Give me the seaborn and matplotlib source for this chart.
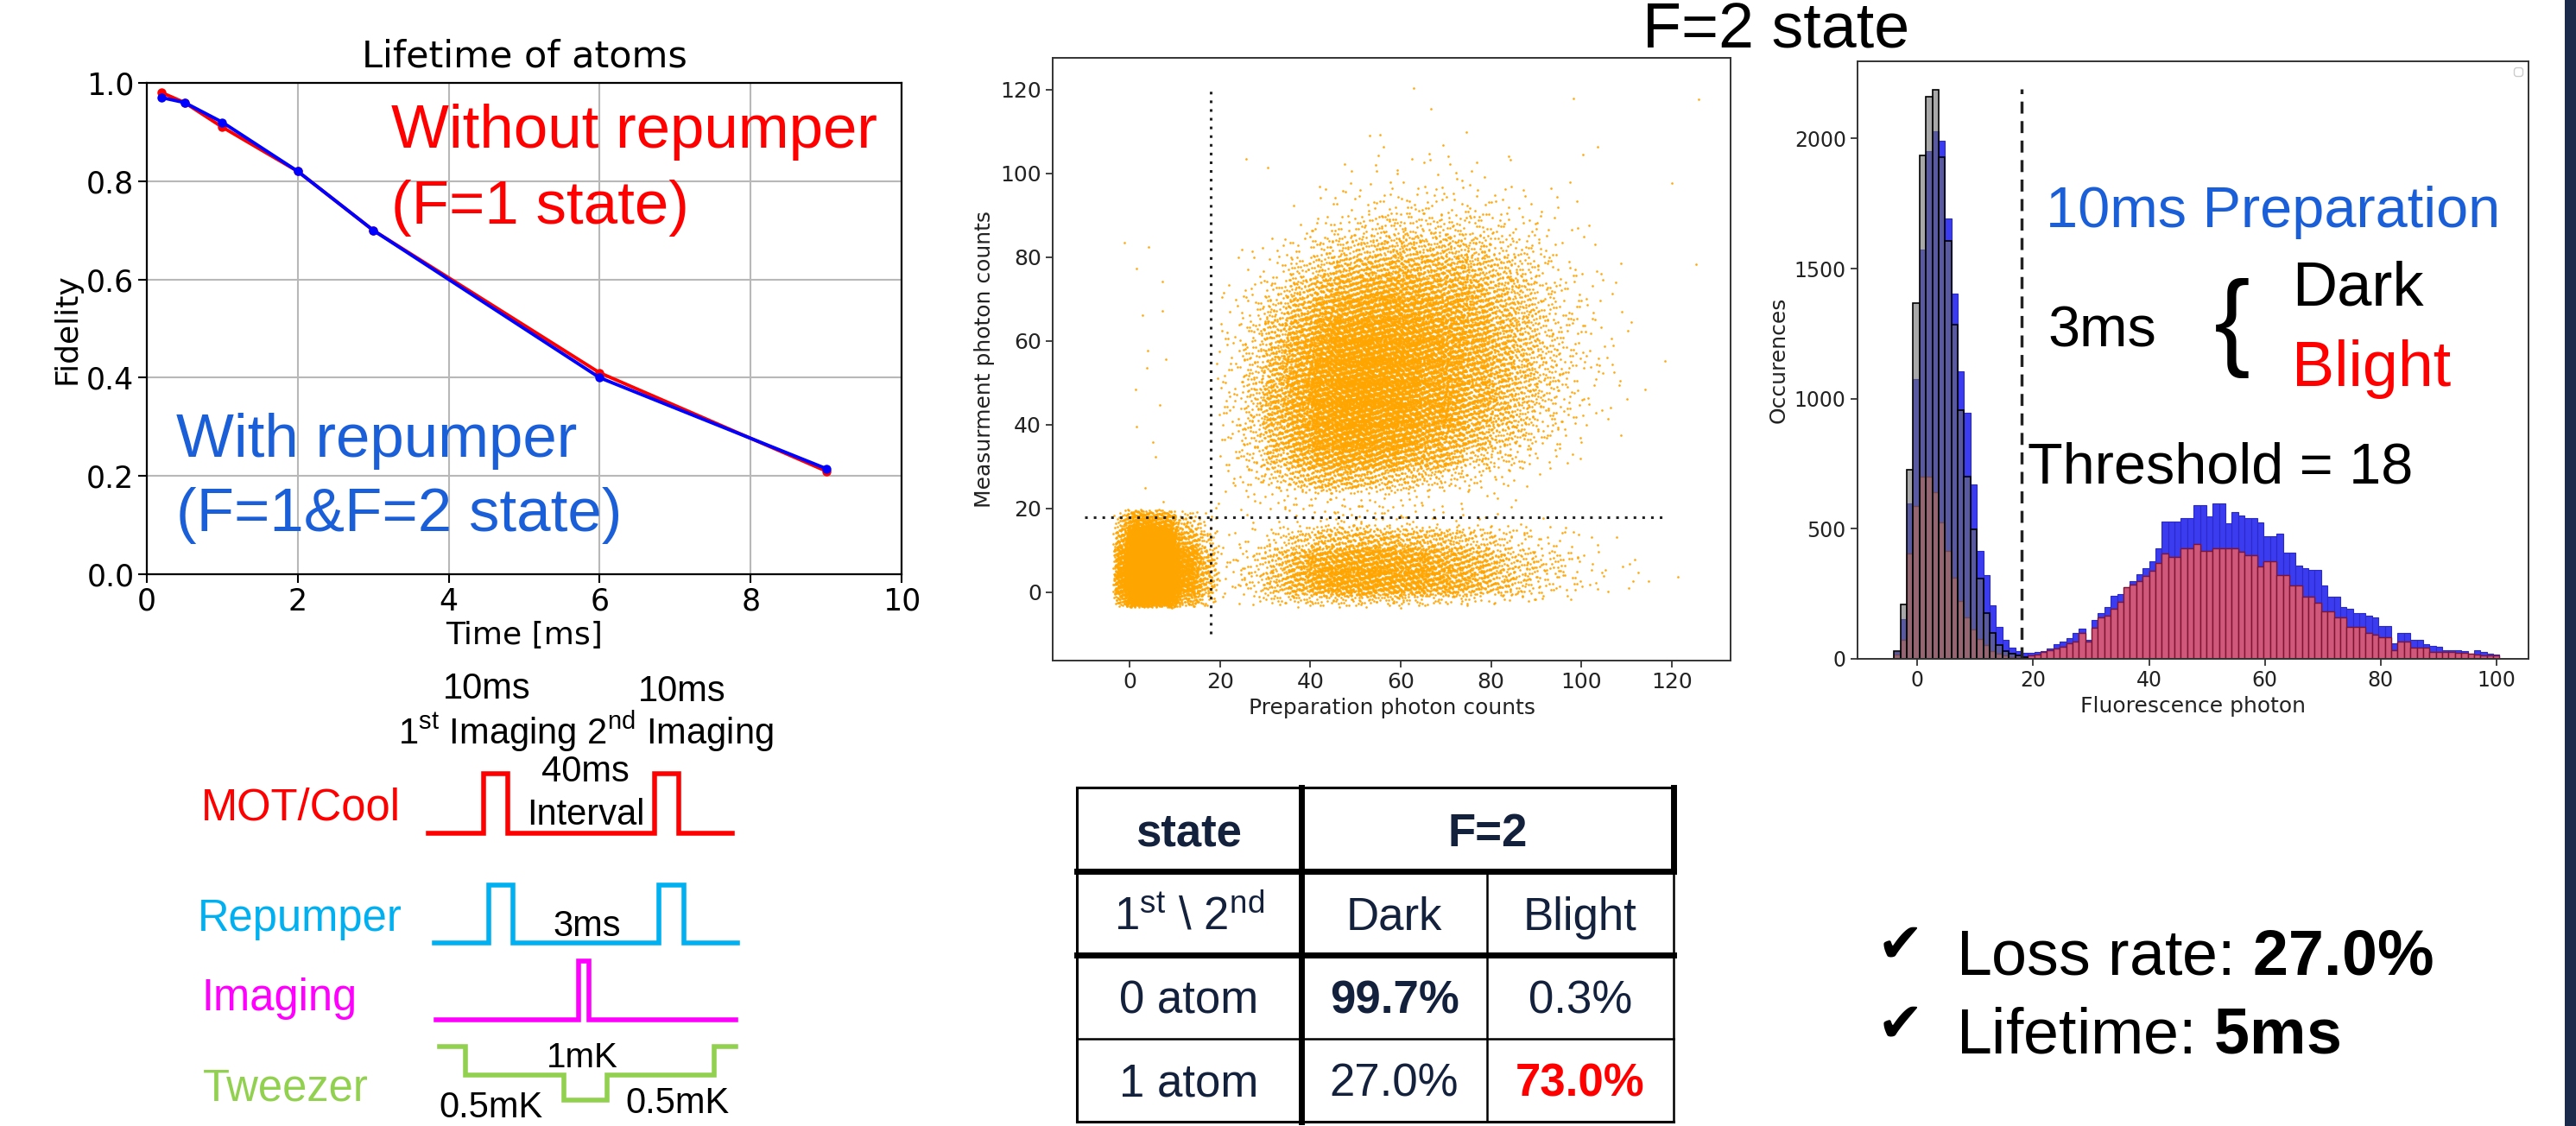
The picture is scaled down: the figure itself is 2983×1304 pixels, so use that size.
import numpy as np
import pandas as pd
import matplotlib
matplotlib.use("Agg")
import matplotlib.pyplot as plt
from matplotlib.patches import Rectangle
import seaborn as sns

# ============================ DATA ============================
# Lifetime of atoms
time_ms = [0.2, 0.5, 1, 2, 3, 6, 9]
fidelity_without_repumper = [0.98, 0.96, 0.91, 0.82, 0.70, 0.41, 0.21]
fidelity_with_repumper = [0.97, 0.96, 0.92, 0.82, 0.70, 0.40, 0.215]

threshold = 18

# Histogram (bins of width 1.1 starting at -4)
hist_first_edge = -4.0
hist_bin_width = 1.1
hist_gray = [30, 208, 727, 1369, 1934, 2161, 2187, 1927, 1606, 1286, 955, 700, 497,
             309, 177, 98, 52, 30, 20, 12, 8]
hist_blue = [28, 153, 598, 1075, 1572, 1953, 2028, 1992, 1692, 1403, 1106, 947, 672,
             416, 322, 205, 122, 72, 44, 30, 22,
             22, 25, 30, 40, 55, 65, 80, 100, 116, 72, 150, 177, 200, 243, 250, 276,
             300, 326, 350, 376, 426, 528, 528, 528, 542, 542, 592, 592, 548, 597, 597,
             520, 564, 550, 542, 542, 525, 470, 470, 481, 409, 409, 360, 350, 343, 343,
             282, 238, 238, 200, 194, 177, 177, 165, 160, 127, 127, 61, 100, 100, 72,
             72, 55, 50, 48, 33, 33, 33, 30, 19, 33, 28, 19, 17]
hist_red = [15, 72, 406, 586, 700, 700, 642, 525, 414, 312, 223, 158, 114, 75, 52,
            31, 20, 12, 8, 6, 5,
            12, 18, 25, 32, 39, 45, 61, 65, 100, 66, 120, 160, 165, 194, 220, 276,
            285, 299, 320, 337, 370, 404, 393, 393, 426, 426, 442, 415, 415, 426, 426,
            426, 426, 410, 398, 398, 354, 376, 376, 321, 321, 282, 282, 238, 238, 216,
            182, 182, 160, 160, 122, 122, 122, 100, 92, 83, 83, 33, 66, 66, 44, 44, 44,
            28, 28, 28, 26, 22, 22, 20, 16, 14, 13, 12]

# Scatter: estimated point counts per cell (listed column by column along x)
# cluster "0 atom"
scat_a_x_edges = [-3.0, 0, 5, 10, 15, 19]
scat_a_y_edges = [-3.0, 0, 5, 10, 15, 19]
scat_a_counts = [[65, 310, 285, 120, 30],
                 [690, 3270, 3010, 1290, 340],
                 [460, 2185, 2010, 860, 230],
                 [90, 420, 390, 165, 45],
                 [20, 90, 85, 35, 8]]
# cluster "atom lost" (bright -> dark)
scat_c_x_edges = [20, 25, 30, 35, 40, 45, 50, 55, 60, 65, 70, 75, 80, 85, 90, 95,
                  100, 105, 110, 115]
scat_c_y_edges = [-3.0, 0, 5, 10, 15, 20]
scat_c_counts = [[2, 8, 8, 3, 1], [5, 25, 22, 8, 2], [12, 70, 60, 20, 3],
                 [20, 150, 130, 45, 5], [25, 230, 200, 75, 8], [28, 280, 250, 95, 10],
                 [28, 290, 265, 105, 11], [25, 270, 250, 100, 10], [22, 230, 215, 88, 9],
                 [18, 190, 180, 72, 7], [14, 150, 140, 55, 5], [10, 110, 100, 40, 4],
                 [6, 70, 65, 25, 3], [4, 42, 40, 15, 2], [2, 22, 22, 8, 1],
                 [1, 12, 12, 5, 1], [0, 5, 5, 2, 0], [0, 2, 2, 1, 0], [0, 1, 1, 0, 0]]
# cluster "atom kept" (bright -> bright)
scat_b_x_edges = [20, 25, 30, 35, 40, 45, 50, 55, 60, 65, 70, 75, 80, 85, 90, 95,
                  100, 105, 110]
scat_b_y_edges = [20, 25, 30, 35, 40, 45, 50, 55, 60, 65, 70, 75, 80, 85, 90, 95,
                  100, 105, 110]
scat_b_counts = [
    [3, 4, 6, 8, 10, 10, 10, 8, 6, 4, 3, 1, 0, 0, 0, 0, 0, 0],
    [6, 12, 22, 30, 35, 35, 32, 28, 20, 12, 6, 3, 1, 0, 0, 0, 1, 0],
    [8, 30, 70, 95, 110, 110, 100, 85, 65, 40, 20, 8, 3, 0, 0, 0, 0, 0],
    [10, 60, 140, 180, 200, 200, 190, 170, 140, 95, 55, 25, 10, 3, 1, 0, 0, 0],
    [12, 90, 220, 280, 300, 300, 290, 260, 220, 160, 100, 50, 22, 8, 3, 1, 0, 0],
    [12, 95, 240, 320, 350, 360, 350, 320, 280, 210, 140, 80, 35, 12, 5, 2, 1, 0],
    [10, 85, 230, 320, 360, 370, 365, 340, 300, 240, 170, 100, 50, 20, 7, 3, 1, 1],
    [8, 70, 200, 290, 330, 345, 340, 320, 295, 240, 180, 110, 60, 25, 10, 4, 1, 1],
    [6, 50, 160, 240, 280, 300, 300, 290, 270, 225, 170, 110, 60, 25, 10, 4, 1, 0],
    [4, 35, 115, 185, 225, 245, 250, 245, 230, 195, 150, 100, 55, 25, 10, 4, 2, 1],
    [3, 22, 75, 130, 170, 190, 200, 200, 190, 165, 130, 90, 50, 22, 9, 4, 2, 1],
    [2, 12, 45, 85, 120, 140, 150, 150, 145, 125, 100, 70, 40, 18, 8, 3, 1, 0],
    [1, 6, 24, 50, 75, 90, 100, 100, 95, 82, 65, 45, 25, 12, 5, 2, 1, 0],
    [0, 3, 12, 28, 45, 55, 62, 62, 58, 50, 40, 28, 15, 8, 3, 1, 0, 0],
    [0, 1, 5, 12, 20, 26, 30, 30, 28, 24, 18, 12, 7, 4, 2, 1, 0, 0],
    [0, 0, 2, 5, 9, 12, 14, 14, 13, 11, 8, 5, 3, 2, 1, 1, 0, 0],
    [0, 0, 0, 2, 3, 4, 5, 5, 5, 4, 3, 2, 1, 1, 0, 0, 1, 0],
    [0, 0, 0, 0, 1, 2, 2, 2, 2, 1, 1, 1, 0, 0, 0, 0, 0, 0]]
scat_outlier_x = [-1.2, 1.5, 4.3, 7.3, 7.3, 2.9, 4.0, 8.1, 3.8, 1.4, 6.7, 1.5, 5.2, 5.8,
                  3.5, 7.5, 30.6, 62.8, 66.7, 55.5, 98.3, 126.0, 120.0, 125.4, 118.5,
                  114.1, 108.7, 99.7, 121.4, 114.8, 110.4, 111.8, 103.5, 94.8, 106.9,
                  111.0, 106.9, 83.8, 74.6, 70.5, 42.0, 49.1, 24.9, 29.5, 81.5, 84.4]
scat_outlier_y = [83.5, 77.3, 82.5, 74.2, 67.2, 66.1, 57.8, 55.7, 53.6, 48.4, 44.8, 39.6,
                  35.9, 32.3, 25.0, 21.7, 101.4, 120.3, 115.4, 109.2, 117.9, 117.7, 97.7,
                  78.3, 55.2, 48.4, 37.5, 32.0, 3.6, 2.6, 1.0, 7.8, 106.3, 91.9, 71.4,
                  64.6, 54.4, 104.2, 109.9, 104.2, 96.9, 100.5, 81.8, 82.3, 22.4, 20.3]

# Timing diagram (schematic time units, logical levels)
timing_labels = ["MOT/Cool", "Repumper", "Imaging", "Tweezer"]
mot_t = [0, 18.2, 26.1, 74.4, 82.4, 100]
mot_level = [0, 1, 0, 1, 0, 0]
rep_t = [2, 19.9, 27.8, 75.9, 84.1, 101.7]
rep_level = [0, 1, 0, 1, 0, 0]
img_t = [2.6, 49.4, 52.8, 101.1]
img_level = [0, 1, 0, 0]
twz_t = [3.7, 12.2, 44.6, 58.8, 94.0, 101.1]
twz_level = [1, 0.47, 0, 0.47, 1, 1]

# Table
table_header = ["state", "F=2"]
table_subheader = ["1$^{\\mathrm{st}}$ \\ 2$^{\\mathrm{nd}}$", "Dark", "Blight"]
table_row_labels = ["0 atom", "1 atom"]
table_values = [["99.7%", "0.3%"], ["27.0%", "73.0%"]]
summary_loss_rate = "27.0%"
summary_lifetime = "5ms"

# ============================ STYLE ============================
W, H = 2983, 1304
DPI = 100
plt.rcParams["font.family"] = ["DejaVu Sans"]
plt.rcParams["mathtext.fontset"] = "custom"
plt.rcParams["mathtext.rm"] = "Liberation Sans"
plt.rcParams["mathtext.bf"] = "Liberation Sans:bold"
plt.rcParams["mathtext.it"] = "Liberation Sans:italic"
SLIDE = ["Liberation Sans", "DejaVu Sans"]
NAVY = "#14213d"
TXT_BLUE = "#1a5fd7"


def px_rect(x0, y0, x1, y1):
    return [x0 / W, 1 - y1 / H, (x1 - x0) / W, (y1 - y0) / H]


fig = plt.figure(figsize=(W / DPI, H / DPI), dpi=DPI, facecolor="white")

# ---------------- Lifetime line chart ----------------
ax1 = fig.add_axes(px_rect(170, 96, 1044, 665))
df_life = pd.DataFrame({
    "Time [ms]": time_ms + time_ms,
    "Fidelity": fidelity_without_repumper + fidelity_with_repumper,
    "series": ["without"] * len(time_ms) + ["with"] * len(time_ms),
})
sns.lineplot(data=df_life, x="Time [ms]", y="Fidelity", hue="series",
             hue_order=["without", "with"], palette={"without": "red", "with": "blue"},
             marker="o", markersize=7.5, markeredgewidth=0, linewidth=2.8,
             legend=False, ax=ax1)
ax1.set_xlim(0, 10)
ax1.set_ylim(0, 1.0)
ax1.set_xticks([0, 2, 4, 6, 8, 10])
ax1.set_yticks([0, 0.2, 0.4, 0.6, 0.8, 1.0])
ax1.set_axisbelow(True)
ax1.grid(True, color="#b8b8b8", lw=1.5)
ax1.tick_params(labelsize=25, length=7, width=1.5)
ax1.set_xlabel("Time [ms]", fontsize=26)
ax1.set_ylabel("Fidelity", fontsize=26)
ax1.set_title("Lifetime of atoms", fontsize=31, pad=13)
for sp in ax1.spines.values():
    sp.set_linewidth(1.6)


# ---------------- Scatter ----------------
PHI4 = 1.1673039782614187
ALPHAS = [1 / PHI4 ** k for k in range(1, 5)]


def cell_points(x_edges, y_edges, counts_by_x, start, blur=0.5):
    counts = np.asarray(counts_by_x, dtype=int)
    xs, ys = [], []
    idx = start
    for i in range(len(x_edges) - 1):
        for j in range(len(y_edges) - 1):
            n = counts[i, j]
            if n <= 0:
                continue
            k = np.arange(idx, idx + n)
            idx += n
            u1, u2, v1, v2 = [np.mod(0.5 + k * a, 1.0) for a in ALPHAS]
            x0, x1 = x_edges[i], x_edges[i + 1]
            y0, y1 = y_edges[j], y_edges[j + 1]
            xs.append(x0 + u1 * (x1 - x0) + (u2 - 0.5) * blur * (x1 - x0))
            ys.append(y0 + v1 * (y1 - y0) + (v2 - 0.5) * blur * (y1 - y0))
    return np.concatenate(xs), np.concatenate(ys), idx


xa, ya, nxt = cell_points(scat_a_x_edges, scat_a_y_edges, scat_a_counts, 1)
xc, yc, nxt = cell_points(scat_c_x_edges, scat_c_y_edges, scat_c_counts, nxt)
xb, yb, nxt = cell_points(scat_b_x_edges, scat_b_y_edges, scat_b_counts, nxt)
df_scat = pd.DataFrame({
    "prep": np.concatenate([xa, xc, xb, scat_outlier_x]),
    "meas": np.concatenate([ya, yc, yb, scat_outlier_y]),
})

ax2 = fig.add_axes(px_rect(1219, 67, 2004, 765))
sns.scatterplot(data=df_scat, x="prep", y="meas", s=3.6, color="#FFA500", linewidth=0,
                alpha=0.95, ax=ax2)
ax2.plot([-10, 119], [threshold, threshold], ls=(0, (1, 2.3)), color="#222222", lw=2.2)
ax2.plot([threshold, threshold], [-10, 120], ls=(0, (1, 2.3)), color="#222222", lw=2.2)
ax2.set_xlim(-17, 133)
ax2.set_ylim(-16.3, 127.6)
ax2.set_xticks(range(0, 121, 20))
ax2.set_yticks(range(0, 121, 20))
ax2.tick_params(labelsize=18, length=6, width=1.2, colors="#222222")
ax2.set_xlabel("Preparation photon counts", fontsize=18, color="#222222")
ax2.set_ylabel("Measurment photon counts", fontsize=18, color="#222222")
for sp in ax2.spines.values():
    sp.set_linewidth(1.4)
    sp.set_color("#333333")

# ---------------- Histogram ----------------
ax3 = fig.add_axes(px_rect(2151, 71, 2928, 763))
n_bins = len(hist_blue)
edges = [hist_first_edge + hist_bin_width * i for i in range(n_bins + 1)]
centers = [hist_first_edge + hist_bin_width * (i + 0.5) for i in range(n_bins)]
ng = len(hist_gray)
df_blue = pd.DataFrame({"photon": centers, "count": hist_blue})
df_red = pd.DataFrame({"photon": centers, "count": hist_red})
df_gray = pd.DataFrame({"photon": centers[:ng], "count": hist_gray})
sns.histplot(data=df_blue, x="photon", weights="count", bins=edges, color="#3b3bef",
             alpha=1.0, edgecolor="#2a2acc", linewidth=0.8, ax=ax3)
sns.histplot(data=df_red, x="photon", weights="count", bins=edges, color="#d0587a",
             alpha=1.0, edgecolor="#7d1532", linewidth=1.0, ax=ax3)
sns.histplot(data=df_gray, x="photon", weights="count", bins=edges[:ng + 1],
             color="#6e6e6e", alpha=0.6, edgecolor="black", linewidth=1.2, ax=ax3)
ax3.vlines(threshold, 0, 2190, colors="#222222", linestyles=(0, (4, 2.5)), lw=2.5)
ax3.set_xlim(-10.3, 105.5)
ax3.set_ylim(0, 2297)
ax3.set_xticks(range(0, 101, 20))
ax3.set_yticks(range(0, 2001, 500))
ax3.tick_params(labelsize=17, length=6, width=1.2, colors="#222222")
ax3.set_xlabel("Fluorescence photon", fontsize=18, color="#222222")
ax3.set_ylabel("Occurences", fontsize=18, color="#222222")
ax3.legend(handles=[], loc="upper right", borderpad=0.35, framealpha=1)
for sp in ax3.spines.values():
    sp.set_linewidth(1.4)
    sp.set_color("#333333")

# ---------------- Timing diagram ----------------
ax_t = fig.add_axes(px_rect(480, 870, 870, 1290))
ax_t.set_xlim(-4.55, 106.25)
ax_t.set_ylim(0, 420 / 68)
ax_t.axis("off")
timing_series = [
    (mot_t, mot_level, 4.78, 1.01, "#ff0000"),
    (rep_t, rep_level, 2.91, 0.985, "#00b0f0"),
    (img_t, img_level, 1.60, 1.0, "#ff00ff"),
    (twz_t, twz_level, 0.235, 0.91, "#92d050"),
]
for t, lev, base, amp, col in timing_series:
    df_w = pd.DataFrame({"t": t, "level": [base + amp * v for v in lev]})
    sns.lineplot(data=df_w, x="t", y="level", drawstyle="steps-post",
                 color=col, lw=4.0, estimator=None, sort=False, ax=ax_t,
                 solid_joinstyle="miter", clip_on=False)
ax_t.set_xlabel("")
ax_t.set_ylabel("")

# ---------------- Canvas overlay (slide text, table) ----------------
cv = fig.add_axes([0, 0, 1, 1])
cv.set_xlim(0, W)
cv.set_ylim(H, 0)
cv.axis("off")
cv.patch.set_alpha(0)


def stext(x, yc, s, size, color="black", ha="left", weight="normal", family=SLIDE):
    cv.text(x, yc + 0.36 * size * DPI / 72, s, fontsize=size, color=color, ha=ha,
            va="baseline", fontweight=weight, family=family)


# line chart annotations
stext(453, 146, "Without repumper", 51, "red")
stext(453, 233, "(F=1 state)", 51, "red")
stext(204, 503, "With repumper", 51, TXT_BLUE)
stext(204, 590, "(F=1&F=2 state)", 51, TXT_BLUE)

# histogram annotations
stext(1902, 29, "F=2 state", 53)
stext(2369, 239, "10ms Preparation", 48, TXT_BLUE)
stext(2371, 378, "3ms", 48)
cv.text(2585, 380, "{", fontsize=90, ha="center", va="center", family=SLIDE)
stext(2654, 328, "Dark", 52)
stext(2654, 420, "Blight", 53, "red")
stext(2348, 536, "Threshold = 18", 48)

# timing annotations
stext(564, 794, "10ms", 30, ha="center")
stext(790, 797, "10ms", 30, ha="center")
stext(678, 847, "1$^{\\mathrm{st}}$ Imaging 2$^{\\mathrm{nd}}$ Imaging", 30, ha="center")
stext(678, 890, "40ms", 30, ha="center")
stext(678, 940, "Interval", 30, ha="center")
stext(680, 1069, "3ms", 30, ha="center")
stext(674, 1222, "1mK", 29, ha="center")
stext(568, 1279, "0.5mK", 30, ha="center")
stext(784, 1274, "0.5mK", 30, ha="center")
label_pos = [(233, 931), (229, 1060), (233, 1152), (235, 1256)]
label_cols = ["#ff0000", "#00b0f0", "#ff00ff", "#92d050"]
for (lx, ly), lab, col in zip(label_pos, timing_labels, label_cols):
    stext(lx, ly, lab, 36.5, col)

# summary
cv.text(2200, 1096, "\u2714", fontsize=46, ha="center", va="center", family=["DejaVu Sans"])
cv.text(2200, 1188, "\u2714", fontsize=46, ha="center", va="center", family=["DejaVu Sans"])
stext(2265, 1102, "Loss rate: $\\mathbf{" + summary_loss_rate.replace("%", "\\%") + "}$", 53)
stext(2265, 1193, "Lifetime: $\\mathbf{" + summary_lifetime + "}$", 53)

# table
col_x = [1247, 1507, 1722, 1938]
row_y = [912, 1009, 1106, 1203, 1299]
THICK, THIN = 5.0, 1.8
cv.plot([col_x[0], col_x[3]], [row_y[0], row_y[0]], color="black", lw=2.2)
cv.plot([col_x[0], col_x[3]], [row_y[1], row_y[1]], color="black", lw=THICK)
cv.plot([col_x[0], col_x[3]], [row_y[2], row_y[2]], color="black", lw=THICK)
cv.plot([col_x[0], col_x[3]], [row_y[3], row_y[3]], color="black", lw=THIN)
cv.plot([col_x[0], col_x[3]], [row_y[4], row_y[4]], color="black", lw=2.2)
cv.plot([col_x[0], col_x[0]], [row_y[0], row_y[4]], color="black", lw=2.2)
cv.plot([col_x[1], col_x[1]], [row_y[0], row_y[4]], color="black", lw=THICK)
cv.plot([col_x[2], col_x[2]], [row_y[1], row_y[4]], color="black", lw=THIN)
cv.plot([col_x[3], col_x[3]], [row_y[0], row_y[1]], color="black", lw=THICK)
cv.plot([col_x[3], col_x[3]], [row_y[1], row_y[4]], color="black", lw=THIN)

ccx = [(col_x[0] + col_x[1]) / 2, (col_x[1] + col_x[2]) / 2, (col_x[2] + col_x[3]) / 2]
rcy = [(row_y[i] + row_y[i + 1]) / 2 for i in range(4)]
stext(ccx[0], rcy[0], table_header[0], 38, NAVY, ha="center", weight="bold")
stext((col_x[1] + col_x[3]) / 2, rcy[0], table_header[1], 38, NAVY, ha="center", weight="bold")
for c, s in enumerate(table_subheader):
    stext(ccx[c], rcy[1], s, 38, NAVY, ha="center")
for r, lab in enumerate(table_row_labels):
    stext(ccx[0], rcy[2 + r], lab, 38, NAVY, ha="center")
stext(ccx[1], rcy[2], table_values[0][0], 38, NAVY, ha="center", weight="bold")
stext(ccx[2], rcy[2], table_values[0][1], 38, NAVY, ha="center")
stext(ccx[1], rcy[3], table_values[1][0], 38, NAVY, ha="center")
stext(ccx[2], rcy[3], table_values[1][1], 38, "#ff0000", ha="center", weight="bold")

# right edge strip
cv.add_patch(Rectangle((2970, 0), 13, H, color="#1b2a4a", lw=0))

fig.savefig("out.png", dpi=DPI, facecolor="white")
